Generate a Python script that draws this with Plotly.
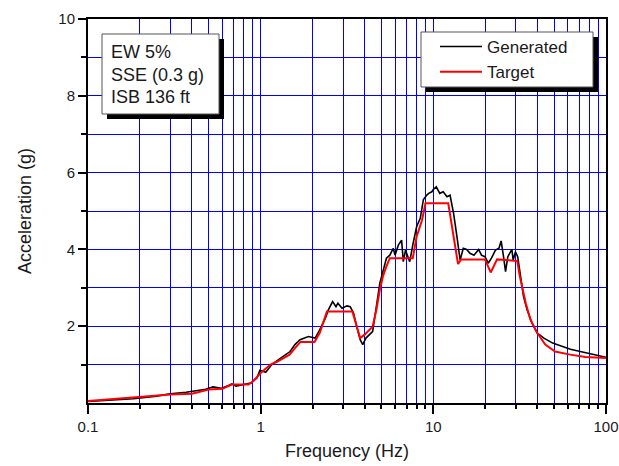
import plotly.graph_objects as go

# ---- data ----
freq_tgt = [0.1, 0.2, 0.3, 0.4, 0.5, 0.6, 0.68, 0.85, 0.9, 1.0, 1.14, 1.25, 1.47, 1.58, 1.7, 2.05,
            2.2, 2.42, 3.4, 3.77, 4.0, 4.45, 4.68, 4.9, 5.1, 5.34, 5.6, 7.6, 8.0, 8.6, 9.0, 12.2,
            13.9, 14.5, 19.9, 21.5, 23.4, 30.6, 31.7, 34.3, 36.5, 40, 44.5, 50.7, 62, 76, 100]
acc_tgt = [0.05, 0.15, 0.22, 0.24, 0.35, 0.37, 0.48, 0.48, 0.56, 0.78, 1.0, 1.08, 1.26, 1.43, 1.59, 1.59,
           1.83, 2.38, 2.38, 1.69, 1.78, 1.99, 2.43, 2.95, 3.29, 3.55, 3.77, 3.77, 4.33, 4.76, 5.2, 5.2,
           3.62, 3.74, 3.74, 3.4, 3.74, 3.7, 3.29, 2.6, 2.17, 1.82, 1.52, 1.34, 1.26, 1.2, 1.17]

freq_gen = [0.1, 0.14, 0.183, 0.25, 0.3, 0.37, 0.43, 0.48, 0.53, 0.59, 0.64, 0.68, 0.72, 0.81, 0.88,
            0.95, 0.99, 1.07, 1.16, 1.27, 1.37, 1.48, 1.58, 1.69, 1.89, 2.07, 2.2, 2.37, 2.47, 2.61,
            2.73, 2.8, 2.96, 3.16, 3.3, 3.45, 3.6, 3.77, 3.9, 4.07, 4.45, 4.6, 4.9, 5.13, 5.35, 5.6,
            5.86, 6.0, 6.27, 6.55, 6.7, 6.9, 7.3, 7.6, 8.0, 8.4, 8.76, 9.2, 9.4, 9.8, 10.0, 10.4,
            10.9, 11.4, 12.0, 12.5, 13.1, 13.7, 14.3, 14.9, 15.6, 16.3, 17.2, 18.3, 19.0, 19.9,
            20.8, 21.7, 22.9, 24.0, 24.7, 25.5, 26.2, 27.0, 28.5, 29.0, 29.9, 30.8, 31.7, 33.3,
            34.9, 37.3, 40, 43.7, 49.1, 55, 62.2, 74.2, 89, 100]
acc_gen = [0.04, 0.08, 0.11, 0.18, 0.24, 0.28, 0.33, 0.36, 0.42, 0.38, 0.44, 0.5, 0.44, 0.48, 0.52,
           0.65, 0.85, 0.8, 1.0, 1.13, 1.23, 1.34, 1.52, 1.65, 1.73, 1.69, 1.91, 2.21, 2.43, 2.64,
           2.51, 2.6, 2.47, 2.53, 2.51, 2.34, 1.99, 1.65, 1.52, 1.69, 1.86, 2.34, 3.12, 3.46, 3.77, 3.85,
           4.03, 3.85, 4.11, 4.24, 3.68, 3.98, 3.68, 4.11, 4.59, 4.81, 5.3, 5.42, 5.46, 5.5, 5.56, 5.63,
           5.46, 5.5, 5.37, 5.41, 4.94, 4.33, 3.72, 4.03, 4.0, 3.9, 3.85, 4.0, 3.85, 3.81,
           3.64, 3.77, 3.98, 4.03, 4.22, 3.81, 3.42, 3.81, 4.0, 3.72, 3.94, 3.81, 3.38, 2.77,
           2.43, 2.08, 1.82, 1.69, 1.56, 1.49, 1.4, 1.32, 1.23, 1.19]

x_major = [0.1, 1, 10, 100]
x_major_text = ["0.1", "1", "10", "100"]
x_minor = [0.2, 0.3, 0.4, 0.5, 0.6, 0.7, 0.8, 0.9, 2, 3, 4, 5, 6, 7, 8, 9,
           20, 30, 40, 50, 60, 70, 80, 90]
y_major = [2, 4, 6, 8, 10]
y_minor = [1, 3, 5, 7, 9]
info_lines = ["EW 5%", "SSE (0.3 g)", "ISB 136 ft"]

FONT = "Liberation Sans, Arial, sans-serif"
TXT = "#1a1a1a"

fig = go.Figure()
fig.add_trace(go.Scatter(x=freq_gen, y=acc_gen, mode="lines", name="Generated",
                         line=dict(color="black", width=1.6)))
fig.add_trace(go.Scatter(x=freq_tgt, y=acc_tgt, mode="lines", name="Target",
                         line=dict(color="#ff0000", width=2)))

W, H = 619, 466
L, R, T, B = 88, 13, 19, 63
PW, PH = W - L - R, H - T - B


def px(xp):
    return (xp - L) / PW


def py(yp):
    return (H - B - yp) / PH


shapes = []
# info box shadow + box
shapes.append(dict(type="rect", xref="paper", yref="paper", x0=px(107), x1=px(224), y0=py(119), y1=py(39),
                   fillcolor="black", line=dict(width=0), layer="above"))
shapes.append(dict(type="rect", xref="paper", yref="paper", x0=px(102), x1=px(219), y0=py(114), y1=py(34),
                   fillcolor="white", line=dict(color="#555555", width=1), layer="above"))
# legend box shadow + box
shapes.append(dict(type="rect", xref="paper", yref="paper", x0=px(426), x1=px(598), y0=py(92), y1=py(37),
                   fillcolor="black", line=dict(width=0), layer="above"))
shapes.append(dict(type="rect", xref="paper", yref="paper", x0=px(421), x1=px(593), y0=py(87), y1=py(32),
                   fillcolor="white", line=dict(color="#555555", width=1), layer="above"))

annotations = []
for txt, yc in zip(info_lines, [52, 75, 97]):
    annotations.append(dict(text=txt, xref="paper", yref="paper", x=px(109), y=py(yc),
                            xanchor="left", yanchor="middle", showarrow=False,
                            font=dict(family=FONT, size=18, color=TXT)))

fig.update_layout(
    width=W, height=H, margin=dict(l=L, r=R, t=T, b=B, autoexpand=False),
    paper_bgcolor="white", plot_bgcolor="white",
    font=dict(family=FONT, size=15, color=TXT),
    shapes=shapes, annotations=annotations,
    showlegend=True,
    legend=dict(x=px(435), y=py(29), xanchor="left", yanchor="top",
                bgcolor="rgba(0,0,0,0)", borderwidth=0,
                font=dict(family=FONT, size=17, color=TXT),
                itemwidth=42),
    xaxis=dict(type="log", range=[-1, 2], tickmode="array", tickvals=x_major, ticktext=x_major_text,
               automargin=False,
               showgrid=True, gridcolor="#0000ff", gridwidth=1,
               ticks="outside", ticklen=9, tickwidth=1.5, tickcolor="black",
               showline=True, linecolor="black", linewidth=2, mirror=True,
               zeroline=False, tickfont=dict(size=15, color=TXT),
               minor=dict(tickmode="array", tickvals=x_minor, ticks="outside", ticklen=4,
                          tickwidth=1.5, tickcolor="black", showgrid=True,
                          gridcolor="#0000ff", gridwidth=1),
               title=dict(text="Frequency (Hz)", font=dict(size=18, color=TXT), standoff=10)),
    yaxis=dict(range=[0, 10], tickmode="array", tickvals=y_major,
               automargin=False,
               showgrid=True, gridcolor="#0000ff", gridwidth=1,
               ticks="outside", ticklen=8, tickwidth=1.5, tickcolor="black",
               showline=True, linecolor="black", linewidth=2, mirror=True,
               zeroline=False, tickfont=dict(size=15, color=TXT),
               minor=dict(tickmode="array", tickvals=y_minor, ticks="outside", ticklen=5,
                          tickwidth=1.5, tickcolor="black", showgrid=True,
                          gridcolor="#0000ff", gridwidth=1),
               title=dict(text="Acceleration (g)", font=dict(size=18, color=TXT), standoff=22)),
)

fig.write_html("out.html")
